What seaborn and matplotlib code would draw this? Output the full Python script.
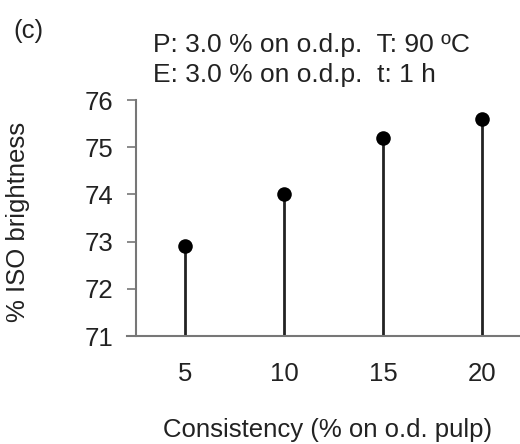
import matplotlib
matplotlib.use("Agg")
import matplotlib.pyplot as plt
import seaborn as sns
import pandas as pd

consistency = ["5", "10", "15", "20"]
brightness = [72.9, 74.0, 75.2, 75.6]
y_ticks = [71, 72, 73, 74, 75, 76]

sns.set_theme(style="white")
plt.rcParams['font.family'] = ['Liberation Sans', 'DejaVu Sans']

FS = 18.5
df = pd.DataFrame({"Consistency": consistency, "Brightness": brightness})

fig = plt.figure(figsize=(5.2, 4.44), dpi=100)
ax = fig.add_axes([127/520, 1 - 336/444, 393/520, 236/444])

pos = list(range(len(consistency)))
ax.vlines(pos, y_ticks[0], df["Brightness"], color="#222222", linewidth=2, zorder=2)
sns.scatterplot(data=df, x="Consistency", y="Brightness", ax=ax, color="black",
                s=110, edgecolor="black", linewidth=0, zorder=3)

ax.set_xlim(-0.59, 3.385)
ax.set_ylim(71, 76)
ax.set_yticks(y_ticks)
ax.set_xticks(pos)
ax.set_xticklabels(consistency)

for s in ["top", "right"]:
    ax.spines[s].set_visible(False)
ax.spines["left"].set_position(("data", -0.5))
for s in ["left", "bottom"]:
    ax.spines[s].set_color("#777777")
    ax.spines[s].set_linewidth(1.5)

ax.tick_params(axis="y", direction="out", length=6.5, width=1.2, color="#777777",
               labelsize=FS, pad=10, left=True, labelcolor="#222222")
ax.tick_params(axis="x", length=0, labelsize=FS, pad=19, labelcolor="#222222")

ax.set_xlabel("Consistency (% on o.d. pulp)", fontsize=FS, va="center", color="#222222")
ax.xaxis.set_label_coords((328 - 127) / 393, (336 - 430) / 236)
ax.set_ylabel("% ISO brightness", fontsize=FS, va="center", color="#222222")
ax.yaxis.set_label_coords((18 - 127) / 393, (336 - 222) / 236)

fig.text(13 / 520, 1 - 31 / 444, "(c)", fontsize=FS, va="center", ha="left", color="#222222")
fig.text(153 / 520, 1 - 45 / 444, "P: 3.0 % on o.d.p.  T: 90 ºC", fontsize=19,
         va="center", ha="left", color="#222222")
fig.text(153 / 520, 1 - 75 / 444, "E: 3.0 % on o.d.p.  t: 1 h", fontsize=19,
         va="center", ha="left", color="#222222")

fig.savefig("out.png", dpi=100, facecolor="white")
